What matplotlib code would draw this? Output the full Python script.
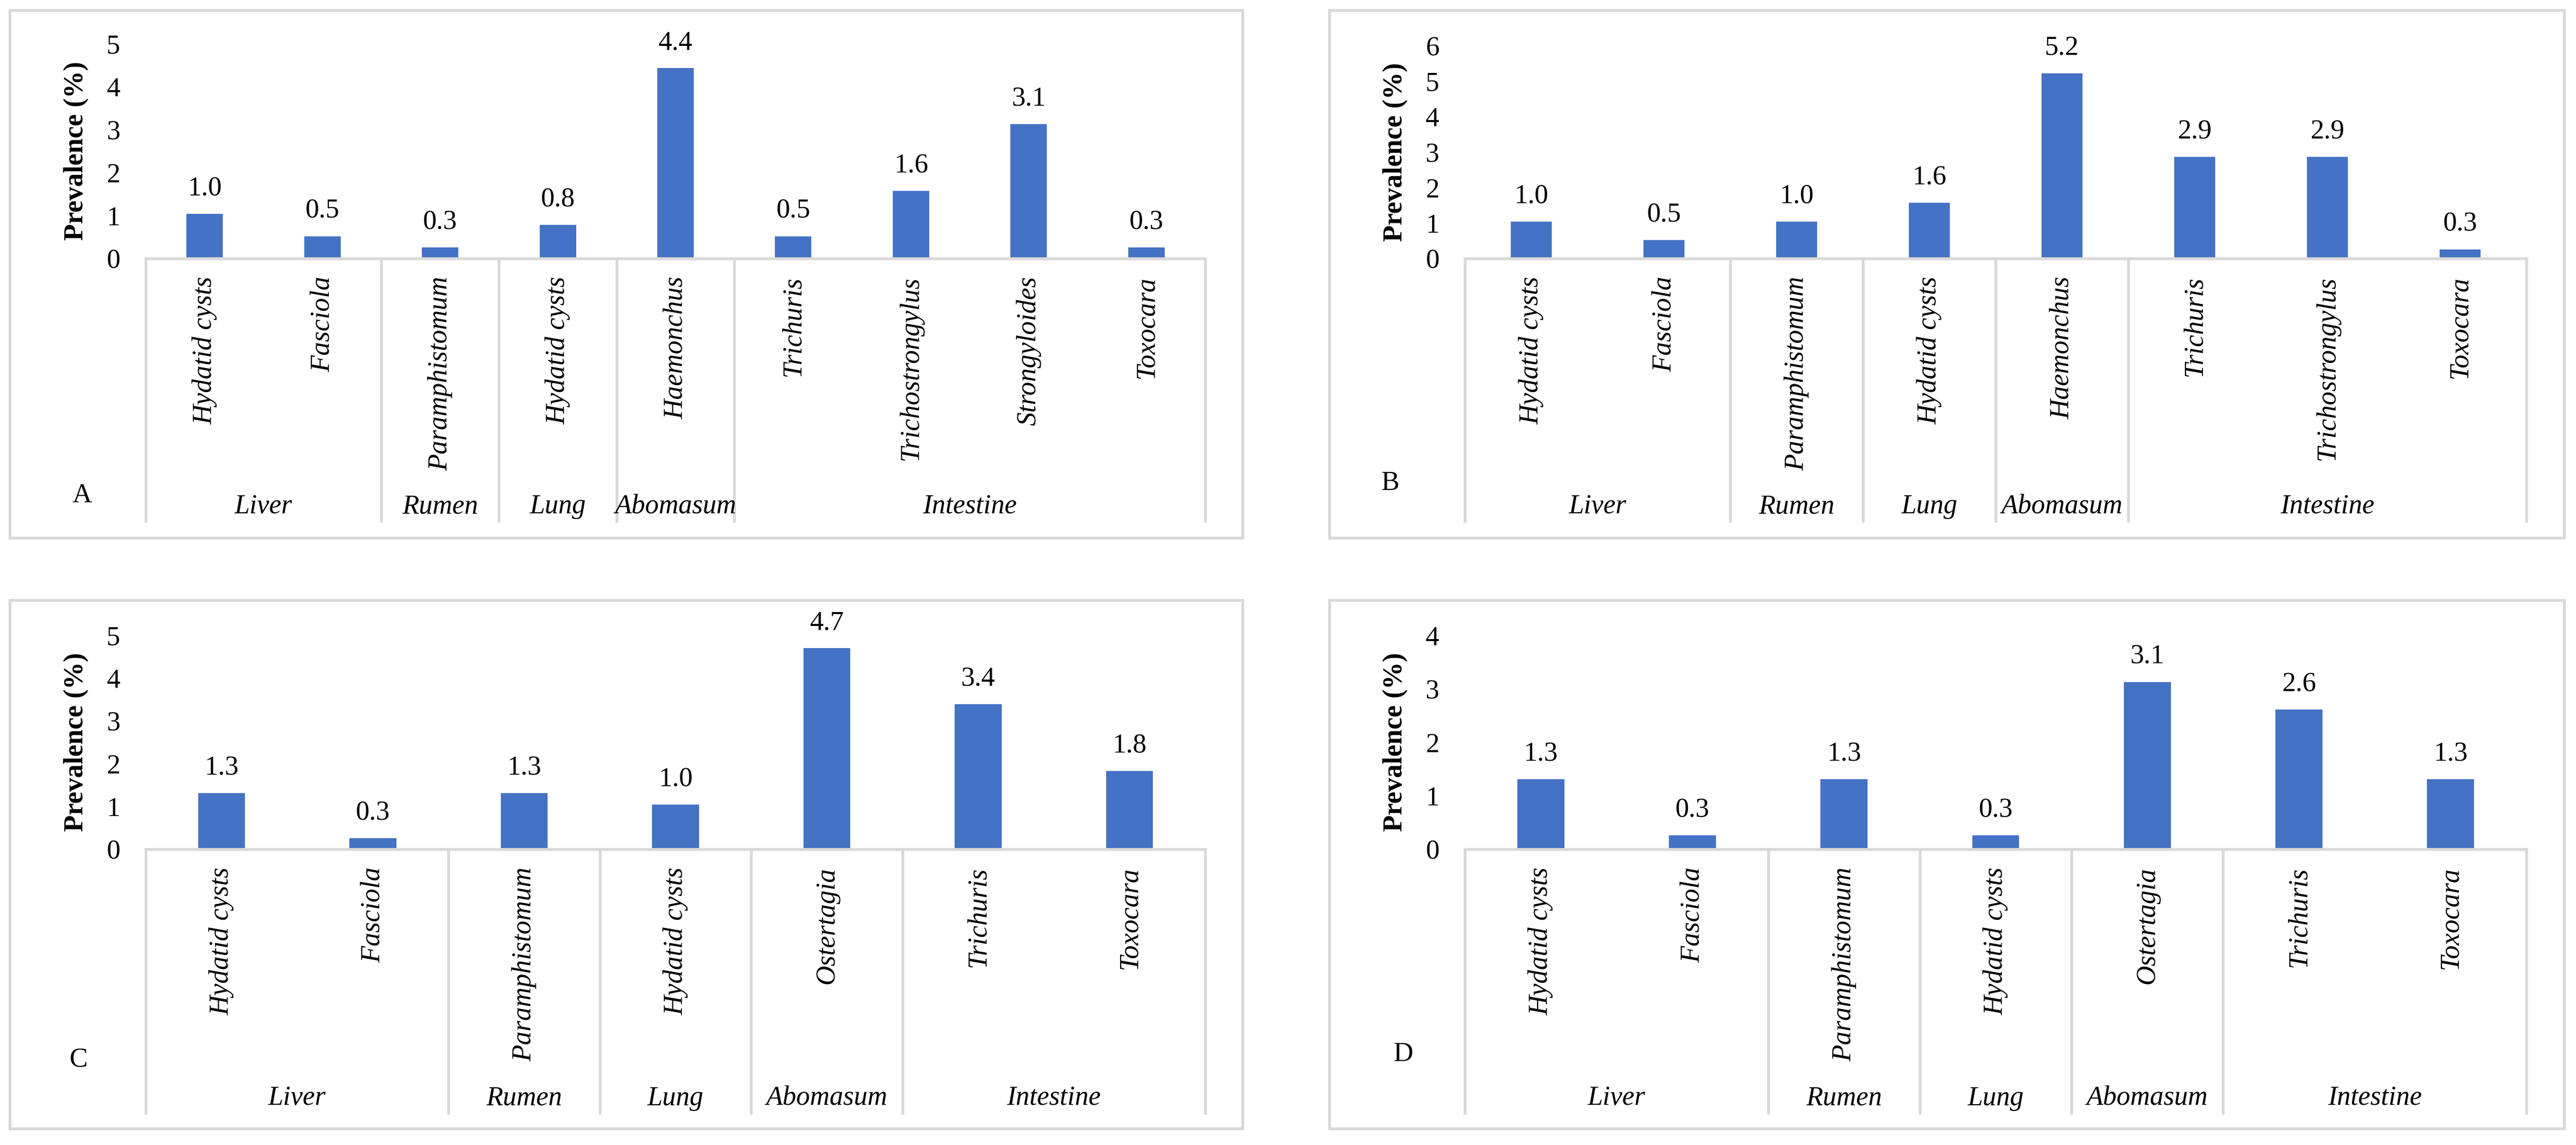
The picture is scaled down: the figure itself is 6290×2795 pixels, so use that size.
import matplotlib
matplotlib.use('Agg')
import matplotlib.pyplot as plt
from matplotlib.patches import Rectangle
from matplotlib.transforms import blended_transform_factory

plt.rcParams['font.family'] = ['Liberation Serif', 'DejaVu Serif']

W, H = 6290, 2795
blue = '#4472C4'
grey = '#D9D9D9'
fs = 48

# data
a_names = ['Hydatid cysts', 'Fasciola', 'Paramphistomum', 'Hydatid cysts', 'Haemonchus',
           'Trichuris', 'Trichostrongylus', 'Strongyloides', 'Toxocara']
a_vals = [1.04, 0.52, 0.26, 0.78, 4.44, 0.52, 1.57, 3.13, 0.26]
a_groups = ['Liver', 'Rumen', 'Lung', 'Abomasum', 'Intestine']
a_sizes = [2, 1, 1, 1, 4]

b_names = ['Hydatid cysts', 'Fasciola', 'Paramphistomum', 'Hydatid cysts', 'Haemonchus',
           'Trichuris', 'Trichostrongylus', 'Toxocara']
b_vals = [1.04, 0.52, 1.04, 1.57, 5.22, 2.87, 2.87, 0.26]
b_groups = ['Liver', 'Rumen', 'Lung', 'Abomasum', 'Intestine']
b_sizes = [2, 1, 1, 1, 3]

c_names = ['Hydatid cysts', 'Fasciola', 'Paramphistomum', 'Hydatid cysts', 'Ostertagia',
           'Trichuris', 'Toxocara']
c_vals = [1.31, 0.26, 1.31, 1.04, 4.70, 3.39, 1.83]
c_groups = ['Liver', 'Rumen', 'Lung', 'Abomasum', 'Intestine']
c_sizes = [2, 1, 1, 1, 2]

d_names = ['Hydatid cysts', 'Fasciola', 'Paramphistomum', 'Hydatid cysts', 'Ostertagia',
           'Trichuris', 'Toxocara']
d_vals = [1.31, 0.26, 1.31, 0.26, 3.13, 2.61, 1.31]
d_groups = ['Liver', 'Rumen', 'Lung', 'Abomasum', 'Intestine']
d_sizes = [2, 1, 1, 1, 2]

fig = plt.figure(figsize=(W / 100, H / 100), dpi=100)


def fy(y):
    return 1 - y / H


def panel(names, vals, groups, sizes, ymax, letter, box, axl, axr, top, base, bottom,
          ylab_x, letter_xy, group_y):
    # outer frame
    x0, y0, x1, y1 = box
    fig.add_artist(Rectangle((x0 / W, fy(y1)), (x1 - x0) / W, (y1 - y0) / H,
                             transform=fig.transFigure, fill=False, ec=grey, lw=5))
    ax = fig.add_axes([axl / W, fy(base), (axr - axl) / W, (base - top) / H])
    ax.patch.set_visible(False)
    n = len(vals)
    x = list(range(n))
    ax.bar(x, vals, width=0.31, color=blue, zorder=2)
    ax.set_xlim(-0.5, n - 0.5)
    ax.set_ylim(0, ymax)
    ax.set_yticks(range(ymax + 1))
    ax.set_xticks([])
    for s in ax.spines.values():
        s.set_visible(False)
    ax.tick_params(axis='y', length=0, pad=45, labelsize=fs)
    for xi, v in zip(x, vals):
        ax.annotate('%.1f' % v, (xi, v), xytext=(0, 22), textcoords='offset points',
                    ha='center', va='bottom', fontsize=fs)

    tr = blended_transform_factory(ax.transData, fig.transFigure)
    # baseline and category separators
    ax.plot([-0.5, n - 0.5], [0, 0], color=grey, lw=5, clip_on=False, zorder=3)
    edges = [-0.5]
    for s in sizes:
        edges.append(edges[-1] + s)
    for e in edges:
        ax.plot([e, e], [fy(base), fy(bottom)], transform=tr, color=grey, lw=5,
                clip_on=False)
    # item labels
    for xi, nm in zip(x, names):
        ax.text(xi, fy(base + 44), nm, transform=tr, rotation=90, ha='center', va='top',
                fontsize=fs, style='italic')
    # group labels
    for g, a, b in zip(groups, edges[:-1], edges[1:]):
        ax.text((a + b) / 2, fy(group_y), g, transform=tr, ha='center', va='center',
                fontsize=fs, style='italic')
    fig.text(ylab_x / W, fy((top + base) / 2), 'Prevalence (%)', rotation=90,
             ha='center', va='center', fontsize=fs, fontweight='bold')
    fig.text(letter_xy[0] / W, fy(letter_xy[1]), letter, ha='center', va='center',
             fontsize=fs)
    return ax


panel(a_names, a_vals, a_groups, a_sizes, 5, 'A', (24, 25, 3034, 1313),
      356, 2943, 107, 631, 1272, 185, (200, 1210), 1237)
panel(b_names, b_vals, b_groups, b_sizes, 6, 'B', (3246, 25, 6261, 1313),
      3577, 6169, 112, 631, 1272, 3406, (3394, 1179), 1237)
panel(c_names, c_vals, c_groups, c_sizes, 5, 'C', (24, 1465, 3034, 2755),
      356, 2943, 1551, 2073, 2717, 185, (191, 2588), 2681)
panel(d_names, d_vals, d_groups, d_sizes, 4, 'D', (3246, 1465, 6261, 2755),
      3577, 6169, 1551, 2073, 2717, 3406, (3426, 2573), 2681)

fig.savefig('out.png', dpi=100, facecolor='white')
